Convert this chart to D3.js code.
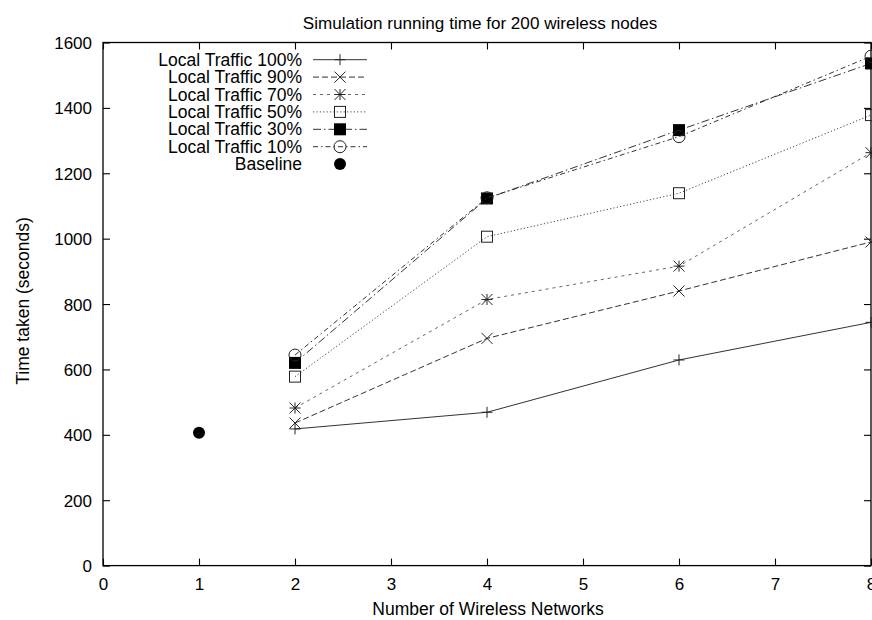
<!DOCTYPE html>
<html>
<head>
<meta charset="utf-8">
<script src="https://cdn.jsdelivr.net/npm/d3@7"></script>
<style>
  html, body { margin: 0; padding: 0; background: #fff; }
  svg { display: block; font-family: "Liberation Sans", Arial, Helvetica, sans-serif; }
</style>
</head>
<body>
<svg id="chart" width="872" height="620"></svg>
<script>
// ---- data ----
const titleText = "Simulation running time for 200 wireless nodes";
const xLabel = "Number of Wireless Networks";
const yLabel = "Time taken (seconds)";
const xTicks = [0, 1, 2, 3, 4, 5, 6, 7, 8];
const yTicks = [0, 200, 400, 600, 800, 1000, 1200, 1400, 1600];
const networks = [2, 4, 6, 8];
const seriesNames = ["Local Traffic 100%", "Local Traffic 90%", "Local Traffic 70%", "Local Traffic 50%", "Local Traffic 30%", "Local Traffic 10%"];
const traffic100 = [418, 469, 629, 744];
const traffic90 = [436, 695, 840, 990];
const traffic70 = [482, 814, 916, 1263];
const traffic50 = [578, 1006, 1139, 1378];
const traffic30 = [620, 1123, 1332, 1536];
const traffic10 = [644, 1125, 1312, 1558];
const baselineName = "Baseline";
const baselineX = [1];
const baselineY = [406];

// ---- styles ----
const seriesValues = [traffic100, traffic90, traffic70, traffic50, traffic30, traffic10];
const markers = ["plus", "cross", "star", "square", "fsquare", "circle"];
const dashes = [null, "6,3", "3,4", "1.2,2.2", "8,3,1.5,3", "5,3,1.5,3"];
const strokes = ["#333", "#333", "#666", "#444", "#333", "#333"];

const svg = d3.select("#chart");
const margin = { left: 103, right: 871, top: 42.5, bottom: 565.6 };
const x = d3.scaleLinear().domain([0, 8]).range([margin.left, margin.right]);
const y = d3.scaleLinear().domain([0, 1600]).range([margin.bottom, margin.top]);
const FS = 17.5;

// title
svg.append("text").attr("x", 480).attr("y", 29).attr("text-anchor", "middle")
  .attr("font-size", 17.1).text(titleText);

// axes (ticks inward, mirrored)
const tickLen = 7;
const gxB = svg.append("g").attr("transform", `translate(0,${margin.bottom})`)
  .call(d3.axisBottom(x).tickValues(xTicks).tickSize(-tickLen).tickPadding(12).tickFormat(d3.format("d")));
const gxT = svg.append("g").attr("transform", `translate(0,${margin.top})`)
  .call(d3.axisTop(x).tickValues(xTicks).tickSize(-tickLen).tickFormat(""));
const gyL = svg.append("g").attr("transform", `translate(${margin.left},0)`)
  .call(d3.axisLeft(y).tickValues(yTicks).tickSize(-tickLen).tickPadding(11).tickFormat(d3.format("d")));
const gyR = svg.append("g").attr("transform", `translate(${margin.right},0)`)
  .call(d3.axisRight(y).tickValues(yTicks).tickSize(-tickLen).tickFormat(""));
[gxB, gxT, gyL, gyR].forEach(g => {
  g.select(".domain").remove();
  g.selectAll("line").attr("stroke", "#000").attr("stroke-width", 1.1);
  g.selectAll("text").attr("font-size", 17).attr("fill", "#000").attr("font-family", null);
});
gyL.selectAll("text").attr("dy", "0.35em");

// frame
svg.append("rect").attr("x", margin.left).attr("y", margin.top)
  .attr("width", margin.right - margin.left).attr("height", margin.bottom - margin.top)
  .attr("fill", "none").attr("stroke", "#000").attr("stroke-width", 1.3);

// axis labels
svg.append("text").attr("x", 488).attr("y", 615).attr("text-anchor", "middle")
  .attr("font-size", FS).text(xLabel);
svg.append("text").attr("transform", "translate(29,301) rotate(-90)").attr("text-anchor", "middle")
  .attr("font-size", FS).text(yLabel);

// marker drawing
function drawMarker(g, type, cx, cy, color) {
  const h = 5.5;
  if (type === "plus" || type === "star") {
    g.append("path").attr("d", `M${cx - h},${cy}H${cx + h}M${cx},${cy - h}V${cy + h}`)
      .attr("stroke", color).attr("stroke-width", 1).attr("fill", "none");
  }
  if (type === "cross" || type === "star") {
    g.append("path").attr("d", `M${cx - h},${cy - h}L${cx + h},${cy + h}M${cx - h},${cy + h}L${cx + h},${cy - h}`)
      .attr("stroke", color).attr("stroke-width", 1).attr("fill", "none");
  }
  if (type === "square") {
    g.append("rect").attr("x", cx - h).attr("y", cy - h).attr("width", 2 * h).attr("height", 2 * h)
      .attr("fill", "none").attr("stroke", color).attr("stroke-width", 1);
  }
  if (type === "fsquare") {
    g.append("rect").attr("x", cx - 6).attr("y", cy - 6).attr("width", 12).attr("height", 12)
      .attr("fill", "#000");
  }
  if (type === "circle") {
    g.append("circle").attr("cx", cx).attr("cy", cy).attr("r", 6)
      .attr("fill", "none").attr("stroke", color).attr("stroke-width", 1);
  }
  if (type === "fcircle") {
    g.append("circle").attr("cx", cx).attr("cy", cy).attr("r", 6).attr("fill", "#000");
  }
}

// series
const line = d3.line().x(d => x(d[0])).y(d => y(d[1]));
const plot = svg.append("g");
seriesValues.forEach((vals, i) => {
  const pts = networks.map((n, j) => [n, vals[j]]);
  plot.append("path").datum(pts).attr("d", line)
    .attr("fill", "none").attr("stroke", strokes[i]).attr("stroke-width", 1)
    .attr("stroke-dasharray", dashes[i]);
  pts.forEach(p => drawMarker(plot, markers[i], x(p[0]), y(p[1]), "#222"));
});
baselineX.forEach((bx, j) => drawMarker(plot, "fcircle", x(bx), y(baselineY[j]), "#000"));

// legend
const legend = svg.append("g");
const legY0 = 59.7, legStep = 17.4;
const allNames = seriesNames.concat([baselineName]);
allNames.forEach((name, i) => {
  const cy = legY0 + i * legStep;
  legend.append("text").attr("x", 302).attr("y", cy + 6).attr("text-anchor", "end")
    .attr("font-size", FS).text(name);
  if (i < seriesNames.length) {
    legend.append("line").attr("x1", 313).attr("x2", 367).attr("y1", cy).attr("y2", cy)
      .attr("stroke", strokes[i]).attr("stroke-width", 1).attr("stroke-dasharray", dashes[i]);
    drawMarker(legend, markers[i], 340, cy, "#222");
  } else {
    drawMarker(legend, "fcircle", 340, cy, "#000");
  }
});
</script>
</body>
</html>
